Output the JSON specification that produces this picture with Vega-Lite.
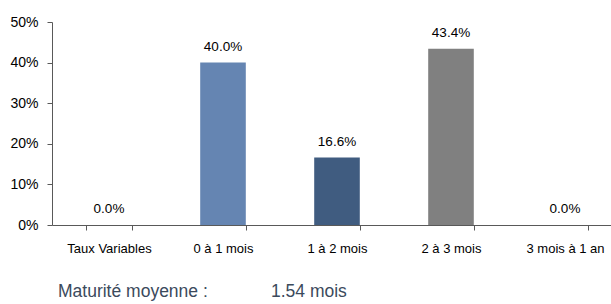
{
  "$schema": "https://vega.github.io/schema/vega-lite/v6.json",
  "autosize": {"type": "none"},
  "width": 555,
  "height": 203,
  "padding": {"left": 52, "top": 22, "right": 4, "bottom": 79},
  "background": "white",
  "config": {
    "view": {"stroke": null},
    "font": "Liberation Sans",
    "axis": {"grid": false, "domainColor": "#595959", "tickColor": "#595959", "labelColor": "#000000", "labelFont": "Liberation Sans", "labelFontSize": 13}
  },
  "title": {
    "text": "Maturité moyenne :\u00a0\u00a0\u00a0\u00a0\u00a0\u00a0\u00a0\u00a0\u00a0\u00a0\u00a0\u00a0\u00a01.54 mois",
    "orient": "bottom",
    "anchor": "start",
    "frame": "group",
    "dx": 6,
    "offset": 28,
    "font": "Liberation Sans",
    "fontSize": 17.5,
    "fontWeight": "normal",
    "color": "#3b4a5c"
  },
  "data": {
    "values": [
      {"cat": "Taux Variables", "val": 0.0},
      {"cat": "0 à 1 mois", "val": 0.400},
      {"cat": "1 à 2 mois", "val": 0.166},
      {"cat": "2 à 3 mois", "val": 0.434},
      {"cat": "3 mois à 1 an", "val": 0.0}
    ]
  },
  "encoding": {
    "x": {
      "field": "cat",
      "type": "nominal",
      "sort": null,
      "title": null,
      "scale": {"range": [0, 570], "paddingInner": 0.6, "paddingOuter": 0.3},
      "axis": {"tickBand": "extent", "tickSize": 5, "labelPadding": 12, "labelAngle": 0, "domainColor": "#595959"}
    },
    "y": {
      "field": "val",
      "type": "quantitative",
      "title": null,
      "scale": {"domain": [0, 0.5]},
      "axis": {"format": ".0%", "values": [0, 0.1, 0.2, 0.3, 0.4, 0.5], "tickSize": 5, "labelPadding": 9, "labelFontSize": 14}
    }
  },
  "layer": [
    {
      "mark": {"type": "bar"},
      "encoding": {
        "color": {
          "field": "cat",
          "type": "nominal",
          "legend": null,
          "scale": {
            "domain": ["Taux Variables", "0 à 1 mois", "1 à 2 mois", "2 à 3 mois", "3 mois à 1 an"],
            "range": ["#6585b2", "#6585b2", "#405c80", "#808080", "#808080"]
          }
        }
      }
    },
    {
      "mark": {"type": "text", "baseline": "alphabetic", "dy": -12, "font": "Liberation Sans", "fontSize": 13.5, "color": "#000000"},
      "encoding": {
        "text": {"field": "val", "type": "quantitative", "format": ".1%"}
      }
    }
  ]
}
